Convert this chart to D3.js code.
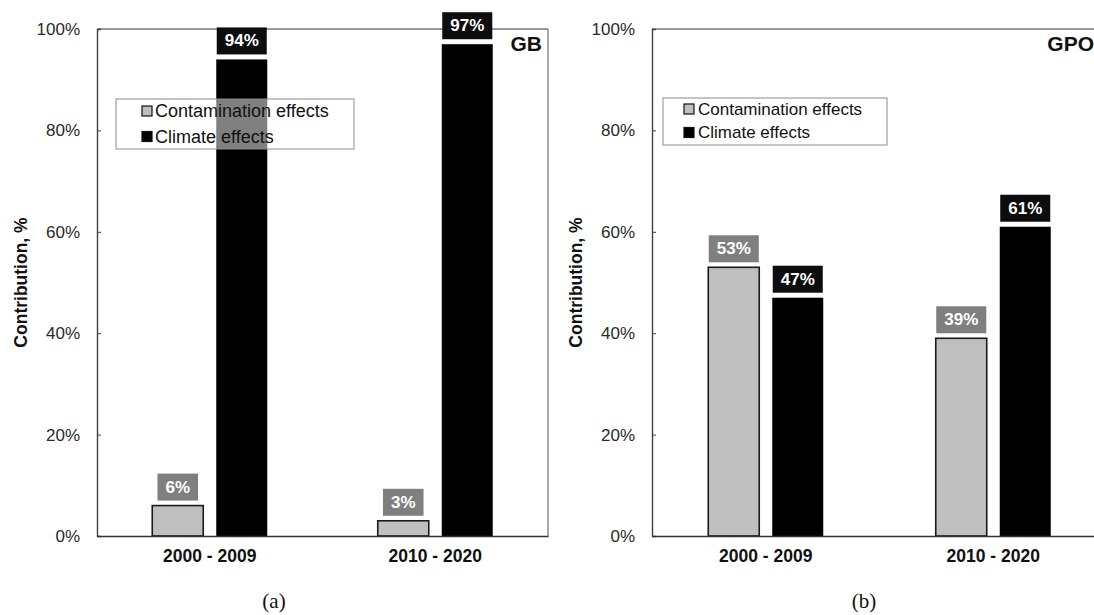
<!DOCTYPE html>
<html>
<head>
<meta charset="utf-8">
<script src="https://cdn.jsdelivr.net/npm/d3@7"></script>
<style>
body{margin:0;background:#fff;}
svg{display:block;}
</style>
</head>
<body>
<script>
// data
var periods = ["2000 - 2009", "2010 - 2020"];
var seriesNames = ["Contamination effects", "Climate effects"];
var gbContamination = [6, 3];
var gbClimate = [94, 97];
var gpoContamination = [53, 39];
var gpoClimate = [47, 61];
var yTicks = [0, 20, 40, 60, 80, 100];

var W = 1094, H = 615;
var svg = d3.select("body").append("svg").attr("width", W).attr("height", H);

var colors = {"Contamination effects": "#bfbfbf", "Climate effects": "#000000"};
var boxColors = {"Contamination effects": "#7f7f7f", "Climate effects": "#0d0d0d"};

var panels = [
  {name: "GB", nameX: 542, tag: "(a)", tagX: 274, left: 97, right: 548, cont: gbContamination, clim: gbClimate,
   leg: {x: 116, y: 99, w: 238, h: 50, sq: 26, tx: 39, r1: 12, r2: 37.5, fs: 18}},
  {name: "GPO", nameX: 1094, tag: "(b)", tagX: 864, left: 652, right: 1107, cont: gpoContamination, clim: gpoClimate,
   leg: {x: 663, y: 98, w: 224, h: 47, sq: 21, tx: 35, r1: 11, r2: 34.5, fs: 17}}
];

var plotTop = 29, plotBottom = 536;
var y = d3.scaleLinear().domain([0, 100]).range([plotBottom, plotTop]);

panels.forEach(function(p) {
  var g = svg.append("g");
  var x = d3.scaleBand().domain(periods).range([p.left, p.right]).padding(0);
  var xs = d3.scaleBand().domain(seriesNames).range([0, 115]).paddingInner(13 / 64);

  var rows = [];
  periods.forEach(function(per, i) {
    rows.push({period: per, s: seriesNames[0], v: p.cont[i]});
    rows.push({period: per, s: seriesNames[1], v: p.clim[i]});
  });

  // frame
  g.append("line").attr("x1", p.left).attr("x2", p.right).attr("y1", plotTop).attr("y2", plotTop)
    .attr("stroke", "#7a7a7a").attr("stroke-width", 1.3);
  g.append("line").attr("x1", p.right).attr("x2", p.right).attr("y1", plotTop).attr("y2", plotBottom)
    .attr("stroke", "#7a7a7a").attr("stroke-width", 1.3);

  // bars
  g.selectAll("rect.bar").data(rows).enter().append("rect")
    .attr("class", "bar")
    .attr("x", function(d) { return x(d.period) + x.bandwidth() / 2 - 57.5 + xs(d.s); })
    .attr("y", function(d) { return y(d.v); })
    .attr("width", xs.bandwidth())
    .attr("height", function(d) { return y(0) - y(d.v); })
    .attr("fill", function(d) { return colors[d.s]; })
    .attr("stroke", function(d) { return d.s === seriesNames[0] ? "#1a1a1a" : "none"; })
    .attr("stroke-width", 1.6);

  // y axis
  var yAxis = d3.axisLeft(y).tickValues(yTicks).tickSize(-4).tickPadding(17)
    .tickFormat(function(d) { return d + "%"; });
  var ya = g.append("g").attr("transform", "translate(" + p.left + ",0)").call(yAxis);
  ya.select(".domain").attr("stroke", "#404040").attr("stroke-width", 1.4);
  ya.selectAll(".tick line").attr("stroke", "#404040");
  ya.selectAll(".tick text").attr("font-family", "Liberation Sans, Arial, sans-serif")
    .attr("font-size", 17).attr("fill", "#2a2a2a");

  // x axis
  var xAxis = d3.axisBottom(x).tickSize(0).tickPadding(14);
  var xa = g.append("g").attr("transform", "translate(0," + plotBottom + ")").call(xAxis);
  xa.select(".domain").attr("stroke", "#333").attr("stroke-width", 1.6);
  xa.selectAll(".tick text").attr("font-family", "Liberation Sans, Arial, sans-serif")
    .attr("font-size", 17.5).attr("font-weight", "bold").attr("fill", "#111");

  // y title
  g.append("text")
    .attr("transform", "translate(" + (p.left - 76) + "," + ((plotTop + plotBottom) / 2) + ") rotate(-90)")
    .attr("text-anchor", "middle").attr("dominant-baseline", "central")
    .attr("font-family", "Liberation Sans, Arial, sans-serif").attr("font-size", 17.5)
    .attr("font-weight", "bold").attr("fill", "#111")
    .text("Contribution, %");

  // panel name
  g.append("text").attr("x", p.nameX).attr("y", 51).attr("text-anchor", "end")
    .attr("font-family", "Liberation Sans, Arial, sans-serif").attr("font-size", 21)
    .attr("font-weight", "bold").attr("fill", "#111").text(p.name);

  // value labels
  var lab = g.selectAll("g.lab").data(rows).enter().append("g").attr("class", "lab");
  lab.each(function(d) {
    var el = d3.select(this);
    var cx = x(d.period) + x.bandwidth() / 2 - 57.5 + xs(d.s) + xs.bandwidth() / 2;
    var by = y(d.v) - 5;
    var t = el.append("text").attr("x", cx).attr("y", by - 13.5)
      .attr("text-anchor", "middle").attr("dominant-baseline", "central")
      .attr("font-family", "Liberation Sans, Arial, sans-serif").attr("font-size", 17)
      .attr("font-weight", "bold").attr("fill", "#fff")
      .text(d.v + "%");
    var tw = t.node().getComputedTextLength();
    el.insert("rect", "text").attr("x", cx - tw / 2 - 8).attr("y", by - 27)
      .attr("width", tw + 16).attr("height", 27)
      .attr("fill", boxColors[d.s]);
  });

  // legend
  var L = p.leg;
  var lg = g.append("g").attr("transform", "translate(" + L.x + "," + L.y + ")");
  lg.append("rect").attr("width", L.w).attr("height", L.h)
    .attr("fill", "#fff").attr("fill-opacity", 0.5)
    .attr("stroke", "#8c8c8c").attr("stroke-width", 1);
  seriesNames.forEach(function(s, i) {
    var cy = i === 0 ? L.r1 : L.r2;
    lg.append("rect").attr("x", L.sq).attr("y", cy - 5).attr("width", 10).attr("height", 10)
      .attr("fill", colors[s]).attr("stroke", "#111").attr("stroke-width", 1.2);
    lg.append("text").attr("x", L.tx).attr("y", cy).attr("dominant-baseline", "central")
      .attr("font-family", "Liberation Sans, Arial, sans-serif").attr("font-size", L.fs)
      .attr("fill", "#111").text(s);
  });

  // sub caption
  svg.append("text").attr("x", p.tagX).attr("y", 608).attr("text-anchor", "middle")
    .attr("font-family", "Liberation Serif, Times New Roman, serif").attr("font-size", 21)
    .attr("fill", "#111").text(p.tag);
});
</script>
</body>
</html>
